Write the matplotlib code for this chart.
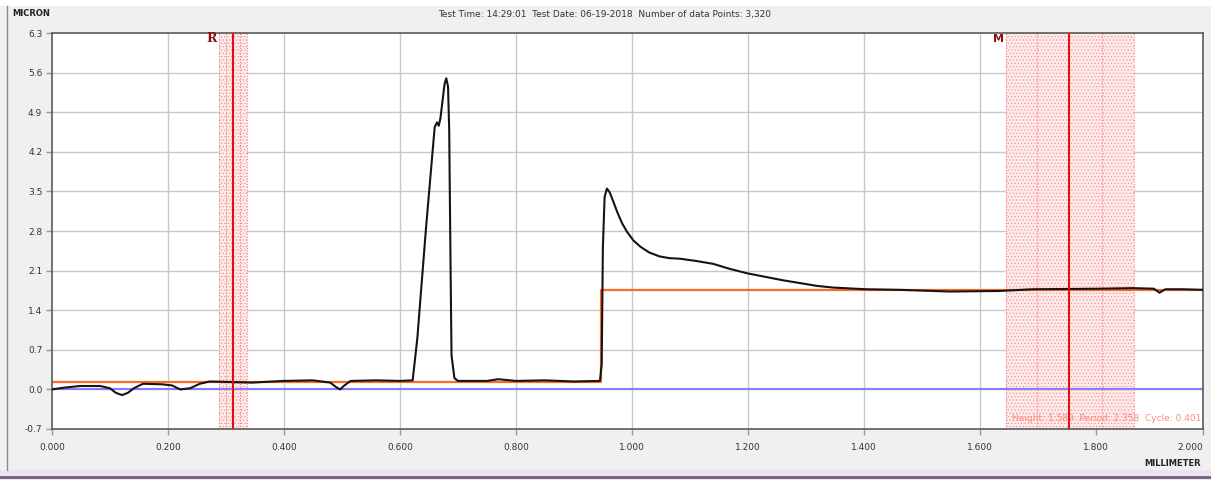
"""Surface profile trace with reference (R) and measurement (M) cursor bands."""

import matplotlib

matplotlib.use("Agg")
import matplotlib.pyplot as plt
from matplotlib.patches import Rectangle

# Profile trace: scan position (mm) against height (micron)
profile_x = [
    0.000, 0.020, 0.048, 0.083, 0.100, 0.110, 0.121, 0.131, 0.141, 0.157,
    0.190, 0.207, 0.221, 0.238, 0.255, 0.272, 0.310, 0.345, 0.400, 0.450,
    0.480, 0.490, 0.497, 0.503, 0.515, 0.560, 0.600, 0.622, 0.630, 0.645,
    0.660, 0.664, 0.667, 0.670, 0.677, 0.680, 0.683, 0.685, 0.687, 0.689,
    0.694, 0.700, 0.750, 0.770, 0.800, 0.850, 0.900, 0.945, 0.948, 0.950,
    0.953, 0.957, 0.962, 0.968, 0.975, 0.983, 0.992, 1.003, 1.015, 1.030,
    1.048, 1.065, 1.083, 1.111, 1.140, 1.169, 1.200, 1.260, 1.319, 1.347,
    1.405, 1.462, 1.548, 1.634, 1.691, 1.807, 1.864, 1.900, 1.910, 1.920,
    1.950, 1.985,
]
profile_y = [
    0.00, 0.03, 0.06, 0.06, 0.02, -0.06, -0.10, -0.06, 0.02, 0.10,
    0.09, 0.07, 0.00, 0.02, 0.10, 0.14, 0.13, 0.12, 0.15, 0.16,
    0.12, 0.04, 0.00, 0.06, 0.15, 0.16, 0.15, 0.16, 0.90, 2.85,
    4.64, 4.72, 4.66, 4.80, 5.40, 5.50, 5.35, 4.60, 2.50, 0.60,
    0.20, 0.15, 0.15, 0.18, 0.15, 0.16, 0.14, 0.15, 0.45, 2.50,
    3.40, 3.55, 3.48, 3.32, 3.13, 2.94, 2.78, 2.63, 2.52, 2.42,
    2.35, 2.32, 2.31, 2.27, 2.22, 2.13, 2.05, 1.93, 1.83, 1.80,
    1.77, 1.76, 1.73, 1.74, 1.77, 1.78, 1.79, 1.78, 1.71, 1.77,
    1.77, 1.76,
]

# Fitted step levels (orange) and zero reference (blue)
fit_x = [0.000, 0.947, 0.947, 1.985]
fit_y = [0.13, 0.13, 1.76, 1.76]
zero_level = 0.0

# Cursor bands: (left, centre, right) in mm
r_band = (0.288, 0.312, 0.336)
m_band = (1.645, 1.754, 1.866)

x_max = 1.985
x_ticks = [0.0, 0.2, 0.4, 0.6, 0.8, 1.0, 1.2, 1.4, 1.6, 1.8, x_max]
x_labels = ["0.000", "0.200", "0.400", "0.600", "0.800", "1.000",
            "1.200", "1.400", "1.600", "1.800", "2.000"]
y_ticks = [-0.7, 0.0, 0.7, 1.4, 2.1, 2.8, 3.5, 4.2, 4.9, 5.6, 6.3]

title = "Test Time: 14:29:01  Test Date: 06-19-2018  Number of data Points: 3,320"
stats = "Height: 1.589  Period: 2.358  Cycle: 0.401"

plt.rcParams["hatch.linewidth"] = 0.5

W, H = 1211, 480
fig = plt.figure(figsize=(W / 100, H / 100), dpi=100, facecolor="#f0f0f0")

# window chrome: white strip on top, frame line on the left, status band at the bottom
fig.patches.append(Rectangle((0, 1 - 6 / H), 1, 6 / H, transform=fig.transFigure,
                             facecolor="white", edgecolor="none"))
fig.patches.append(Rectangle((0, 0), 1, 10 / H, transform=fig.transFigure,
                             facecolor="#ebe4ef", edgecolor="none"))
fig.lines.append(plt.Line2D([0, 1], [3 / H, 3 / H], transform=fig.transFigure,
                            color="#6e5f80", lw=2))
fig.lines.append(plt.Line2D([7 / W, 7 / W], [10 / H, 1 - 6 / H], transform=fig.transFigure,
                            color="#8a8a8a", lw=1))

ax = fig.add_axes([52 / W, 1 - 429 / H, (1203 - 52) / W, 396 / H])
ax.set_facecolor("white")
ax.set_xlim(0, x_max)
ax.set_ylim(-0.7, 6.3)

for x in x_ticks[1:-1]:
    ax.axvline(x, color="#c8c8c8", lw=1, zorder=0)
for y in y_ticks[1:-1]:
    ax.axhline(y, color="#c8c8c8", lw=1, zorder=0)


def draw_band(left, centre, right):
    ax.add_patch(Rectangle((left, -0.7), right - left, 7.0, facecolor="#ffe9e9",
                           edgecolor="#ec9a9a", hatch=".....", lw=0, zorder=1))
    for x in (left, (left + centre) / 2, (centre + right) / 2, right):
        ax.axvline(x, color="#ee8080", lw=0.8, ls=(0, (1, 1.5)), zorder=1.5)
    ax.axvline(centre, color="#e01010", lw=1.5, zorder=4)


draw_band(*r_band)
draw_band(*m_band)

ax.axhline(zero_level, color="#8080ff", lw=1.5, zorder=2)
ax.plot(fit_x, fit_y, color="#ff6a2a", lw=1.6, zorder=2.5)
ax.plot(profile_x, profile_y, color="#141414", lw=1.5, zorder=3)

ax.text(r_band[0] - 0.004, 6.2, "R", color="#8b1010", fontsize=9, fontweight="bold",
        family="DejaVu Serif", ha="right", va="center")
ax.text(m_band[0] - 0.004, 6.2, "M", color="#8b1010", fontsize=8, fontweight="bold",
        ha="right", va="center")
ax.text(x_max - 0.003, -0.52, stats, color="#ff8a78", fontsize=6.5, ha="right", va="center")

ax.set_xticks(x_ticks)
ax.set_xticklabels(x_labels)
ax.get_xticklabels()[-1].set_horizontalalignment("right")
ax.set_yticks(y_ticks)
ax.set_yticklabels([f"{v:.1f}" for v in y_ticks])
ax.tick_params(axis="both", labelsize=6.5, labelcolor="#333333", color="#999999",
               length=4, width=1)
ax.tick_params(axis="x", pad=6)
ax.tick_params(axis="y", pad=3)
for spine in ax.spines.values():
    spine.set_color("#5a5a5a")
    spine.set_linewidth(1.2)

fig.text(12 / W, 1 - 14 / H, "MICRON", fontsize=6, fontweight="bold", color="#222222",
         va="center", ha="left")
fig.text(605 / W, 1 - 14 / H, title, fontsize=6.5, color="#333333", va="center", ha="center")
fig.text(1201 / W, 1 - 463 / H, "MILLIMETER", fontsize=6, fontweight="bold",
         color="#222222", va="center", ha="right")

fig.savefig("out.png", dpi=100, facecolor=fig.get_facecolor())
